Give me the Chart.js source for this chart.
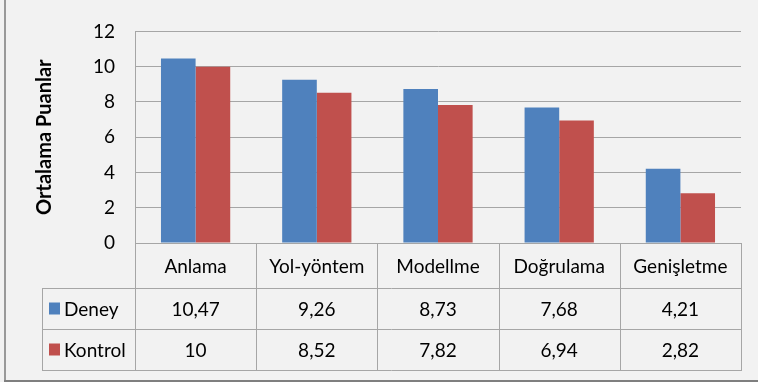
<!DOCTYPE html>
<html>
<head>
<meta charset="utf-8">
<script src="https://cdn.jsdelivr.net/npm/chart.js@4/dist/chart.umd.min.js"></script>
<style>
  html, body { margin: 0; padding: 0; background: #f2f2f2; }
  #wrap { width: 758px; height: 382px; position: relative; }
</style>
</head>
<body>
<div id="wrap"><canvas id="c" width="758" height="382"></canvas></div>
<script>
// Category names and mean scores per group
const categories = ['Anlama', 'Yol-yöntem', 'Modellme', 'Doğrulama', 'Genişletme'];
const deneyValues = [10.47, 9.26, 8.73, 7.68, 4.21];
const kontrolValues = [10, 8.52, 7.82, 6.94, 2.82];
const seriesNames = ['Deney', 'Kontrol'];
const yTicks = [0, 2, 4, 6, 8, 10, 12];

const BLUE = '#4f81bd';
const RED = '#c0504d';
const GRID = '#a6a6a6';
const FONT = 'Lato, "Open Sans", sans-serif';
const TEXT_SIZE = 19;

// Turkish decimal comma for the data table
const fmt = v => String(v).replace('.', ',');

// Frame and background of the whole chart
const framePlugin = {
  id: 'frame',
  beforeDraw(chart) {
    const ctx = chart.ctx;
    ctx.save();
    ctx.fillStyle = '#f2f2f2';
    ctx.fillRect(0, 0, chart.width, chart.height);
    ctx.strokeStyle = '#999999';
    ctx.lineWidth = 2;
    ctx.beginPath();
    ctx.moveTo(5, 0);
    ctx.lineTo(5, 381);
    ctx.stroke();
    ctx.strokeStyle = '#7f7f7f';
    ctx.beginPath();
    ctx.moveTo(4, 381);
    ctx.lineTo(chart.width, 381);
    ctx.stroke();
    ctx.restore();
  }
};

// Data table under the plot: header row (axis labels) plus one row per series
const tablePlugin = {
  id: 'dataTable',
  afterDraw(chart) {
    const ctx = chart.ctx;
    const x = chart.scales.x;
    const area = chart.chartArea;
    const half = (x.getPixelForValue(1) - x.getPixelForValue(0)) / 2;
    const left = area.left, right = area.right;
    const legendLeft = 42;
    const rowTop = [area.bottom, 288, 329, 370];
    const rows = [deneyValues, kontrolValues];
    const colors = [BLUE, RED];

    ctx.save();
    ctx.strokeStyle = GRID;
    ctx.lineWidth = 1;
    ctx.beginPath();
    // horizontal rules
    ctx.moveTo(left, rowTop[0] + 0.5); ctx.lineTo(right, rowTop[0] + 0.5);
    for (let i = 1; i < rowTop.length; i++) {
      ctx.moveTo(legendLeft, rowTop[i] + 0.5); ctx.lineTo(right, rowTop[i] + 0.5);
    }
    // vertical rules at category boundaries
    for (let i = 0; i <= categories.length; i++) {
      const px = Math.round(x.getPixelForValue(i) - half) + 0.5;
      ctx.moveTo(px, rowTop[0]); ctx.lineTo(px, rowTop[3] + 1);
    }
    ctx.moveTo(legendLeft + 0.5, rowTop[1]); ctx.lineTo(legendLeft + 0.5, rowTop[3] + 1);
    ctx.stroke();

    ctx.font = TEXT_SIZE + 'px ' + FONT;
    ctx.fillStyle = '#000';
    ctx.textBaseline = 'middle';
    for (let r = 0; r < rows.length; r++) {
      const cy = (rowTop[r + 1] + rowTop[r + 2]) / 2 + 1;
      // legend key and series name
      ctx.fillStyle = colors[r];
      ctx.fillRect(49, cy - 7, 11, 12);
      ctx.fillStyle = '#000';
      ctx.textAlign = 'left';
      ctx.fillText(seriesNames[r], 64, cy);
      ctx.textAlign = 'center';
      rows[r].forEach((v, i) => {
        ctx.fillText(fmt(v), x.getPixelForValue(i), cy);
      });
    }
    ctx.restore();
  }
};

new Chart(document.getElementById('c'), {
  type: 'bar',
  data: {
    labels: categories,
    datasets: [
      { label: seriesNames[0], data: deneyValues, backgroundColor: BLUE },
      { label: seriesNames[1], data: kontrolValues, backgroundColor: RED }
    ]
  },
  options: {
    responsive: false,
    animation: false,
    devicePixelRatio: 1,
    layout: { padding: { left: 30, right: 17, top: 28, bottom: 0 } },
    datasets: { bar: { categoryPercentage: 2 / 3.5, barPercentage: 1 } },
    plugins: {
      legend: { display: false },
      tooltip: { enabled: false }
    },
    scales: {
      x: {
        grid: { display: false, drawTicks: false },
        border: { display: false },
        ticks: { color: '#000', font: { family: FONT, size: TEXT_SIZE }, padding: 12, maxRotation: 0 },
        afterFit(s) { s.height = 382 - 243; }
      },
      y: {
        min: 0,
        max: 12,
        afterBuildTicks(s) { s.ticks = yTicks.map(v => ({ value: v })); },
        grid: { color: GRID, lineWidth: 1, drawTicks: false },
        border: { display: true, color: GRID },
        ticks: { color: '#000', font: { family: FONT, size: TEXT_SIZE }, padding: 20 },
        title: {
          display: true,
          text: 'Ortalama Puanlar',
          color: '#000',
          font: { family: FONT, size: 20, weight: 'bold' },
          padding: { top: 3, bottom: 0 }
        },
        afterFit(s) { s.width = 135 - 30; }
      }
    }
  },
  plugins: [framePlugin, tablePlugin]
});
</script>
</body>
</html>
